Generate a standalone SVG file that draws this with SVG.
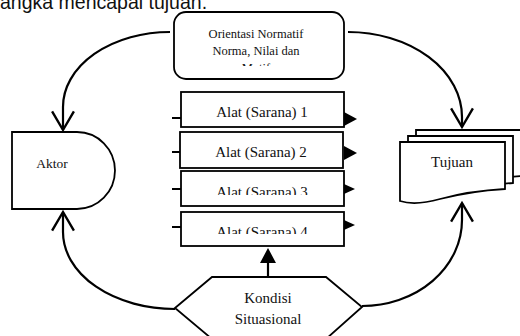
<svg xmlns="http://www.w3.org/2000/svg" width="520" height="336" viewBox="0 0 520 336">
<style>
.s{fill:#fff;stroke:#000;stroke-width:1.8}
.c{fill:none;stroke:#000;stroke-width:2.2}
.t{font-family:"Liberation Serif","Times New Roman",serif;fill:#111;text-anchor:middle}
.cap{font-family:"Liberation Sans",Arial,sans-serif;fill:#111}
</style>
<defs>
<marker id="open" markerUnits="userSpaceOnUse" markerWidth="24" markerHeight="24" viewBox="0 0 20 22" refX="18" refY="11" orient="auto">
<path d="M1,1 L18,11 L1,21" fill="none" stroke="#000" stroke-width="2.2"/>
</marker>
<clipPath id="c0"><rect x="175" y="12" width="168" height="54"/></clipPath>
<clipPath id="c3"><rect x="181" y="171" width="163" height="24"/></clipPath>
<clipPath id="c4"><rect x="181" y="212" width="163" height="22"/></clipPath>
</defs>
<rect width="520" height="336" fill="#fff"/>
<text class="cap" x="0" y="9" font-size="19.5">angka mencapai tujuan.</text>
<g id="connectors">
<path class="c" d="M170,32 A107,75 0 0 0 63,107 L63,130" marker-end="url(#open)"/>
<path class="c" d="M348,32 A114,85 0 0 1 462,117 L462,127" marker-end="url(#open)"/>
<path class="c" d="M175,309 A112,77 0 0 1 63,232 L63,212" marker-end="url(#open)"/>
<path class="c" d="M362,306 A100,86 0 0 0 462,220 L462,203" marker-end="url(#open)"/>
<line x1="268" y1="277" x2="268" y2="262" stroke="#000" stroke-width="2.2"/>
<polygon points="268,248 260,263 276,263" fill="#000"/>
<g stroke="#000" stroke-width="2">
<line x1="172" y1="118" x2="182" y2="118"/>
<line x1="172" y1="152" x2="182" y2="152"/>
<line x1="172" y1="189" x2="182" y2="189"/>
<line x1="172" y1="227" x2="182" y2="227"/>
</g>
<g fill="#000">
<polygon points="344,112 357,119 344,126"/>
<polygon points="344,146 357,153 344,160"/>
<polygon points="344,184 355,189 344,194"/>
<polygon points="344,220 355,225 344,230"/>
</g>
</g>
<g id="orientasi">
<rect class="s" x="174" y="12" width="170" height="67" rx="12"/>
<g clip-path="url(#c0)">
<text class="t" x="256" y="38" font-size="12.5">Orientasi Normatif</text>
<text class="t" x="256" y="55" font-size="12.5">Norma, Nilai dan</text>
<text class="t" x="256" y="72" font-size="12.5">Motif</text>
</g>
</g>
<g id="aktor">
<path class="s" d="M12,132 L77,132 A38,38.5 0 0 1 77,209 L12,209 Z"/>
<text class="t" x="52" y="168" font-size="13.5">Aktor</text>
</g>
<g id="alat1">
<rect class="s" x="181" y="92" width="163" height="35"/>
<text class="t" x="262" y="117" font-size="15">Alat (Sarana) 1</text>
</g>
<g id="alat2">
<rect class="s" x="180" y="132" width="163" height="36"/>
<text class="t" x="261" y="157" font-size="15">Alat (Sarana) 2</text>
</g>
<g id="alat3">
<rect class="s" x="181" y="171" width="163" height="35"/>
<text class="t" x="262" y="197" font-size="15" clip-path="url(#c3)">Alat (Sarana) 3</text>
</g>
<g id="alat4">
<rect class="s" x="181" y="212" width="163" height="34"/>
<text class="t" x="262" y="237" font-size="15" clip-path="url(#c4)">Alat (Sarana) 4</text>
</g>
<g id="tujuan">
<path class="s" d="M416,130 H521 V176 Q486,178 456,187 Q431,194 416,189 Z"/>
<path class="s" d="M408,136 H513 V183 Q478,185 448,193 Q423,200 408,195 Z"/>
<path class="s" d="M400,142 H505 V189 Q470,191 440,199 Q415,206 400,201 Z"/>
<text class="t" x="452" y="167" font-size="15">Tujuan</text>
</g>
<g id="kondisi">
<polygon class="s" points="175,308 212,277 326,277 362,307 326,339 212,339"/>
<text class="t" x="268" y="303" font-size="15">Kondisi</text>
<text class="t" x="268" y="324" font-size="15">Situasional</text>
</g>
</svg>
